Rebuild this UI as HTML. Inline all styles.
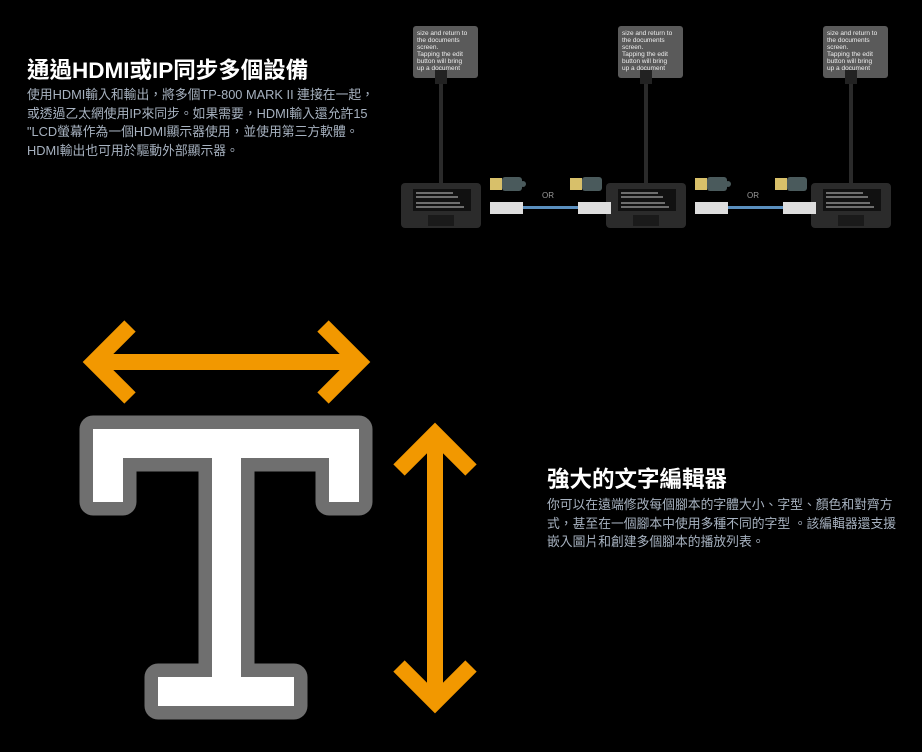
<!DOCTYPE html>
<html><head><meta charset="utf-8"><style>
body{margin:0;background:#000;width:922px;height:752px;overflow:hidden;position:relative;font-family:"Liberation Sans","Noto Sans CJK TC",sans-serif}
.t{position:absolute;color:#fff;font-weight:bold;font-size:22.5px;white-space:nowrap}
.p{position:absolute;color:#a7b2c0;font-size:12.8px;line-height:18.5px;white-space:nowrap}
</style></head><body>
<div class="t" style="left:27px;top:53px">通過HDMI或IP同步多個設備</div>
<div class="p" style="left:27px;top:86px">使用HDMI輸入和輸出，將多個TP-800 MARK II 連接在一起，<br>或透過乙太網使用IP來同步。如果需要，HDMI輸入還允許15<br>"LCD螢幕作為一個HDMI顯示器使用，並使用第三方軟體。<br>HDMI輸出也可用於驅動外部顯示器。</div>
<div class="t" style="left:547px;top:462px">強大的文字編輯器</div>
<div class="p" style="left:547px;top:496px">你可以在遠端修改每個腳本的字體大小、字型、顏色和對齊方<br>式，甚至在一個腳本中使用多種不同的字型 。該編輯器還支援<br>嵌入圖片和創建多個腳本的播放列表。</div>
<svg width="922" height="752" style="position:absolute;left:0;top:0">
<defs><g id="u">
<rect x="15" y="26" width="65" height="52" rx="3" fill="#5a5a5a"/>
<text x="19" y="35" font-size="6.5" fill="#eee" font-family="Liberation Sans">size and return to</text>
<text x="19" y="42" font-size="6.5" fill="#eee" font-family="Liberation Sans">the documents</text>
<text x="19" y="49" font-size="6.5" fill="#eee" font-family="Liberation Sans">screen.</text>
<text x="19" y="56" font-size="6.5" fill="#eee" font-family="Liberation Sans">Tapping the edit</text>
<text x="19" y="63" font-size="6.5" fill="#eee" font-family="Liberation Sans">button will bring</text>
<text x="19" y="70" font-size="6.5" fill="#eee" font-family="Liberation Sans">up a document</text>
<rect x="37" y="70" width="12" height="14" fill="#222"/>
<rect x="41" y="84" width="4" height="100" fill="#2a2a2a"/>
<rect x="3" y="183" width="80" height="45" rx="4" fill="#2b2b2b"/>
<rect x="15" y="189" width="58" height="22" fill="#111"/>
<g stroke="#ccc" stroke-width="1"><line x1="18" y1="193" x2="55" y2="193"/><line x1="18" y1="197" x2="60" y2="197"/><line x1="18" y1="203" x2="62" y2="203"/><line x1="18" y1="207" x2="66" y2="207"/></g>
<rect x="30" y="215" width="26" height="11" fill="#1a1a1a"/>
</g>
<g id="c">
<rect x="0" y="0" width="12" height="12" fill="#d8c06a"/><rect x="12" y="-1" width="20" height="14" rx="3" fill="#4a5a5c"/><circle cx="33" cy="6" r="3" fill="#4a5a5c"/>
<rect x="80" y="0" width="12" height="12" fill="#d8c06a" transform="translate(172,0) scale(-1,1)"/>
<rect x="60" y="-1" width="20" height="14" rx="3" fill="#4a5a5c" transform="translate(172,0) scale(-1,1)"/>
<text x="52" y="20" font-size="8" fill="#999" font-family="Liberation Sans">OR</text>
<rect x="33" y="28" width="55" height="3" fill="#5a8fbf"/>
<rect x="0" y="24" width="33" height="12" fill="#ddd"/><rect x="88" y="24" width="33" height="12" fill="#ddd"/>
</g></defs>
<use href="#u" x="398"/><use href="#u" x="603"/><use href="#u" x="808"/>
<use href="#c" x="490" y="178"/><use href="#c" x="695" y="178"/>
<g stroke="#6f6f6f" stroke-width="27" stroke-linejoin="round" fill="#6f6f6f">
<polygon points="93,429 359,429 359,502 329,502 329,458 241,458 241,677 294,677 294,706 158,706 158,677 212,677 212,458 123,458 123,502 93,502"/>
</g>
<polygon points="93,429 359,429 359,502 329,502 329,458 241,458 241,677 294,677 294,706 158,706 158,677 212,677 212,458 123,458 123,502 93,502" fill="#fff"/>
<g stroke="#f29800" stroke-width="16" fill="none">
<line x1="93" y1="362" x2="360" y2="362"/>
<polyline points="130,326 94,362 130,398"/><polyline points="323,326 359,362 323,398"/>
<line x1="435" y1="434" x2="435" y2="702"/>
<polyline points="399,470 435,434 471,470"/><polyline points="399,666 435,702 471,666"/>
</g>
</svg>
</body></html>
